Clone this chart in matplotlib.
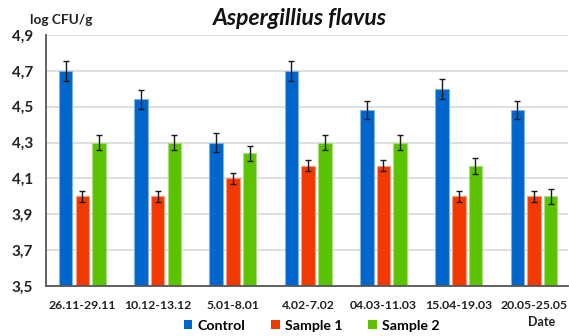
import matplotlib
matplotlib.use("Agg")
import matplotlib.pyplot as plt
import numpy as np
from matplotlib.patches import Patch

categories = ["26.11-29.11", "10.12-13.12", "5.01-8.01", "4.02-7.02", "04.03-11.03", "15.04-19.03", "20.05-25.05"]
control = [4.70, 4.54, 4.30, 4.70, 4.48, 4.60, 4.48]
sample1 = [4.00, 4.00, 4.10, 4.17, 4.17, 4.00, 4.00]
sample2 = [4.30, 4.30, 4.24, 4.30, 4.30, 4.17, 4.00]
control_err = [0.055, 0.055, 0.055, 0.055, 0.05, 0.055, 0.05]
sample1_err = [0.03, 0.03, 0.03, 0.03, 0.03, 0.03, 0.03]
sample2_err = [0.043, 0.043, 0.043, 0.043, 0.043, 0.043, 0.043]
yticks = [3.5, 3.7, 3.9, 4.1, 4.3, 4.5, 4.7, 4.9]
ytick_labels = ["3,5", "3,7", "3,9", "4,1", "4,3", "4,5", "4,7", "4,9"]
series_names = ["Control", "Sample 1", "Sample 2"]

plt.rcParams['font.family'] = ['Lato', 'DejaVu Sans']

fig = plt.figure(figsize=(5.69, 3.36), dpi=100)
ax = fig.add_axes([0.080, 0.149, 0.918, 0.747])

colors = ["#0066CC", "#F23A00", "#5CC300"]
edges = ["#7FB2E5", "#F79A80", "#A8DE80"]
x = np.arange(len(categories))
w = 0.18
off = 0.222
for i, (vals, errs) in enumerate([(control, control_err), (sample1, sample1_err), (sample2, sample2_err)]):
    ax.bar(x + (i - 1) * off, np.array(vals) - 3.5, bottom=3.5, width=w, color=colors[i],
           edgecolor=edges[i], linewidth=0.8, zorder=3)
    ax.errorbar(x + (i - 1) * off, vals, yerr=errs, fmt='none', ecolor='#1a1a1a',
                elinewidth=1.0, capsize=2.5, capthick=1.0, zorder=4)

ax.set_ylim(3.5, 4.9)
ax.set_xlim(-0.49, 6.45)
ax.set_yticks(yticks)
ax.set_yticklabels(ytick_labels, fontsize=11, fontweight='bold', color='#222222')
ax.set_xticks(x)
ax.set_xticklabels(categories, fontsize=8.8, fontweight='bold', color='#222222')
ax.tick_params(axis='both', length=0)
ax.tick_params(axis='y', pad=9)
ax.tick_params(axis='x', pad=10)
ax.grid(axis='y', color='#d9d9d9', linewidth=1.2, zorder=0)
ax.set_axisbelow(True)
for s in ['top', 'right']:
    ax.spines[s].set_visible(False)
for s in ['left', 'bottom']:
    ax.spines[s].set_color('#555555')
    ax.spines[s].set_linewidth(1.3)
    ax.spines[s].set_zorder(5)

fig.text(0.527, 0.945, "Aspergillius flavus", fontsize=16.5, fontweight='bold', fontstyle='italic',
         ha='center', va='center', color='#111111')
fig.text(0.053, 0.94, "log CFU/g", fontsize=9.8, fontweight='bold', ha='left', va='center', color='#222222')
fig.text(0.952, 0.042, "Date", fontsize=9, fontweight='bold', ha='center', va='center', color='#222222')

handles = [Patch(facecolor=c, edgecolor='none') for c in colors]
fig.legend(handles, series_names, loc='center', bbox_to_anchor=(0.548, 0.030), ncol=3, frameon=False,
           handlelength=0.6, handleheight=0.6, handletextpad=0.4, columnspacing=1.8,
           prop={'weight': 'bold', 'size': 10.2})

fig.savefig("out.png", dpi=100)
